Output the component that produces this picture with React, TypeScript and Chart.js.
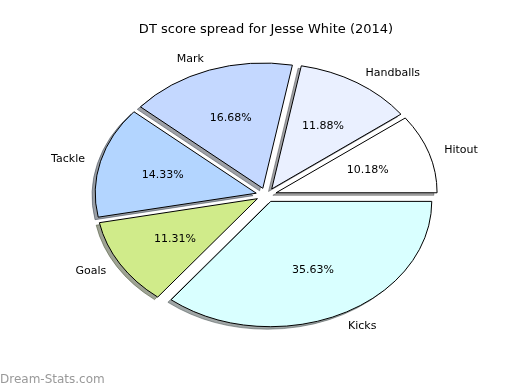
import React, { useEffect, useRef } from "react";
import { Chart, registerables } from "chart.js";

Chart.register(...registerables);

const TITLE = "DT score spread for Jesse White (2014)";
const WATERMARK = "Dream-Stats.com";
const categories = ["Hitout", "Handballs", "Mark", "Tackle", "Goals", "Kicks"];
const shares = [10.18, 11.88, 16.68, 14.33, 11.31, 35.63];
const sliceColors = ["#ffffff", "#eaf0ff", "#c4d8ff", "#b3d5ff", "#d0eb8a", "#d9ffff"];

const RADIUS = 161;
const SY = 125.3 / 161;
const EXX = 10.35;
const EXY = 7.1;
const SHX = -3.2;
const SHY = 2.5;
const FONT = "'DejaVu Sans', 'Liberation Sans', sans-serif";

function shadowColor(hex: string) {
  const n = parseInt(hex.slice(1), 16);
  const r = Math.round(((n >> 16) & 255) * 0.3);
  const g = Math.round(((n >> 8) & 255) * 0.3);
  const b = Math.round((n & 255) * 0.3);
  return `rgba(${r},${g},${b},0.5)`;
}

function wedgePath(ctx: CanvasRenderingContext2D, cx: number, cy: number, r: number, s: number, e: number) {
  ctx.save();
  ctx.translate(cx, cy);
  ctx.scale(1, SY);
  ctx.beginPath();
  ctx.moveTo(0, 0);
  ctx.arc(0, 0, r, s, e);
  ctx.closePath();
  ctx.restore();
}

const ellipsePie = {
  id: "ellipsePie",
  beforeDatasetsDraw(chart: any) {
    const ctx: CanvasRenderingContext2D = chart.ctx;
    const arcs = chart.getDatasetMeta(0).data;
    // shadows first (below all wedges)
    arcs.forEach((arc: any) => {
      const p = arc.getProps(["x", "y", "startAngle", "endAngle", "outerRadius"], true);
      const mid = (p.startAngle + p.endAngle) / 2;
      wedgePath(ctx, p.x + Math.cos(mid) * EXX + SHX, p.y + Math.sin(mid) * EXY + SHY, p.outerRadius, p.startAngle, p.endAngle);
      const c = shadowColor(arc.options.backgroundColor);
      ctx.fillStyle = c;
      ctx.fill();
      ctx.strokeStyle = c;
      ctx.lineWidth = 1;
      ctx.stroke();
    });
    arcs.forEach((arc: any) => {
      const p = arc.getProps(["x", "y", "startAngle", "endAngle", "outerRadius"], true);
      const mid = (p.startAngle + p.endAngle) / 2;
      const ox = Math.cos(mid) * EXX;
      const oy = Math.sin(mid) * EXY;
      ctx.save();
      ctx.translate(p.x + ox, p.y + oy);
      ctx.scale(1, SY);
      ctx.translate(-p.x, -p.y);
      arc.draw(ctx);
      ctx.restore();
      wedgePath(ctx, p.x + ox, p.y + oy, p.outerRadius, p.startAngle, p.endAngle);
      ctx.strokeStyle = "#000000";
      ctx.lineWidth = 1;
      ctx.lineJoin = "miter";
      ctx.stroke();
    });
    return false;
  },
  afterDraw(chart: any) {
    const ctx: CanvasRenderingContext2D = chart.ctx;
    const arcs = chart.getDatasetMeta(0).data;
    const labels = chart.data.labels;
    const values = chart.data.datasets[0].data;
    const total = values.reduce((a: number, b: number) => a + b, 0);
    ctx.save();
    ctx.fillStyle = "#000000";
    ctx.textBaseline = "middle";
    ctx.font = `11px ${FONT}`;
    arcs.forEach((arc: any, i: number) => {
      const p = arc.getProps(["x", "y", "startAngle", "endAngle", "outerRadius"], true);
      const mid = (p.startAngle + p.endAngle) / 2;
      const c = Math.cos(mid);
      const s = Math.sin(mid);
      const R = p.outerRadius;
      const lx = p.x + c * (EXX + 1.1 * R);
      const ly = p.y + s * (EXY + 1.1 * R * SY) + 1;
      ctx.textAlign = c > 0 ? "left" : "right";
      ctx.fillText(labels[i], lx, ly);
      const px = p.x + c * (EXX + 0.6 * R);
      const py = p.y + s * (EXY + 0.6 * R * SY) + 1;
      ctx.textAlign = "center";
      ctx.fillText(((values[i] / total) * 100).toFixed(2) + "%", px, py);
    });
    ctx.font = `13px ${FONT}`;
    ctx.textAlign = "center";
    ctx.fillText(TITLE, 266, 30);
    ctx.font = `12px ${FONT}`;
    ctx.textAlign = "left";
    ctx.fillStyle = "#999999";
    ctx.fillText(WATERMARK, 0, 380);
    ctx.restore();
  },
};

export default function App() {
  const ref = useRef<HTMLCanvasElement>(null);
  useEffect(() => {
    if (!ref.current) return;
    // Chart.js draws clockwise; matplotlib order is counter-clockwise, so reverse.
    const labels = [...categories].reverse();
    const data = [...shares].reverse();
    const colors = [...sliceColors].reverse();
    const chart = new Chart(ref.current, {
      type: "pie",
      data: {
        labels,
        datasets: [
          {
            data,
            backgroundColor: colors,
            borderWidth: 0,
            offset: 0,
            hoverOffset: 0,
          },
        ],
      },
      options: {
        responsive: false,
        animation: false,
        events: [],
        rotation: 90,
        radius: RADIUS,
        layout: { padding: { left: 12.5, right: 0, top: 0, bottom: 0 } },
        plugins: {
          legend: { display: false },
          tooltip: { enabled: false },
          title: { display: false },
        },
      } as any,
      plugins: [ellipsePie as any],
    });
    return () => chart.destroy();
  }, []);
  return (
    <div style={{ position: "fixed", left: 0, top: 0, width: 520, height: 390, background: "#ffffff" }}>
      <canvas ref={ref} width={520} height={390} />
    </div>
  );
}
